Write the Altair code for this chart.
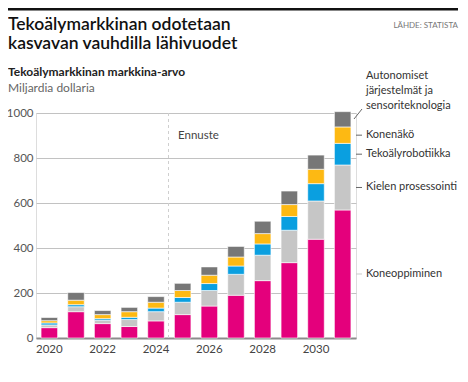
import altair as alt
import pandas as pd

years = [2020, 2021, 2022, 2023, 2024, 2025, 2026, 2027, 2028, 2029, 2030, 2031]
koneoppiminen = [46, 117, 64, 51, 76, 104, 142, 190, 255, 335, 439, 569]
kielen = [12, 22, 15, 31, 41, 55, 69, 93, 113, 144, 170, 200]
robotiikka = [9, 9, 7, 10, 16, 21, 31, 37, 50, 61, 77, 96]
konenako = [10, 20, 18, 25, 26, 31, 37, 40, 46, 53, 64, 73]
autonomiset = [14, 34, 18, 19, 25, 32, 37, 47, 55, 60, 63, 68]

series_names = ["Koneoppiminen", "Kielen prosessointi", "Tekoälyrobotiikka", "Konenäkö",
                "Autonomiset järjestelmät ja sensoriteknologia"]
series_vals = [koneoppiminen, kielen, robotiikka, konenako, autonomiset]
colors = ["#E4007C", "#C6C6C6", "#0A9FE0", "#FDB913", "#777777"]
y_ticks = [0, 200, 400, 600, 800, 1000]
x_label_years = [2020, 2022, 2024, 2026, 2028, 2030]

rows = []
for i, (name, vals) in enumerate(zip(series_names, series_vals)):
    for y, v in zip(years, vals):
        rows.append({"year": y, "series": name, "value": v, "order": i})
df = pd.DataFrame(rows)

# label positions: midpoints of the last bar's segments
last = [vals[-1] for vals in series_vals]
cum = 0
mids = []
for v in last:
    mids.append(cum + v / 2)
    cum += v
lab_df = pd.DataFrame({"name": series_names[:4], "mid": mids[:4],
                       "col": ["#cccccc", "#666666", "#666666", "#666666"]})

FONT = "Lato"
W, H = 320, 225

bars = alt.Chart(df).mark_bar(stroke="white", strokeWidth=0.6).encode(
    x=alt.X("year:O", title=None,
            scale=alt.Scale(paddingInner=0.38, paddingOuter=0.19),
            axis=alt.Axis(values=x_label_years, labelAngle=0, ticks=False,
                          domainColor="#8c8c8c", domainWidth=2, labelPadding=5,
                          labelFontSize=11.5, labelColor="#444", labelFont=FONT)),
    y=alt.Y("value:Q", stack="zero", title=None,
            scale=alt.Scale(domain=[0, 1000], nice=False),
            axis=alt.Axis(values=y_ticks, format="d", domain=False, ticks=False, labelPadding=3,
                          labelFontSize=11.5, labelColor="#555", labelFont=FONT,
                          gridColor="#c2c2c2", gridWidth=1)),
    color=alt.Color("series:N", scale=alt.Scale(domain=series_names, range=colors), legend=None),
    order=alt.Order("order:Q"),
)

dash = alt.Chart(pd.DataFrame({"a": [0]})).mark_rule(
    color="#cfcfcf", strokeDash=[3, 3], strokeWidth=1).encode(
    x=alt.value(132.5), y=alt.value(0), y2=alt.value(H))

def txt(s, x, y, size=11.5, color="#333", weight="normal", align="left"):
    return alt.Chart(pd.DataFrame({"t": [s]})).mark_text(
        font=FONT, fontSize=size, color=color, fontWeight=weight, align=align,
        baseline="alphabetic").encode(x=alt.value(x), y=alt.value(y), text="t:N")

ennuste = txt("Ennuste", 142, 25.7, size=11.5, color="#444")

leaders = alt.Chart(lab_df).mark_rule(strokeWidth=1).encode(
    x=alt.value(320), x2=alt.value(326), y="mid:Q",
    color=alt.Color("col:N", scale=None))
labels = alt.Chart(lab_df).mark_text(font=FONT, fontSize=11, color="#333",
                                     align="left", baseline="middle").encode(
    x=alt.value(330), y="mid:Q", text="name:N")
diag = alt.Chart(pd.DataFrame({"a": [0]})).mark_rule(color="#666", strokeWidth=1).encode(
    x=alt.value(318), x2=alt.value(326), y=alt.value(6), y2=alt.value(-4))
auto1 = txt("Autonomiset", 330, -34.3, size=11)
auto2 = txt("järjestelmät ja", 330, -19.3, size=11)
auto3 = txt("sensoriteknologia", 330, -4.3, size=11)

top_rule = alt.Chart(pd.DataFrame({"a": [0]})).mark_rule(color="#111", strokeWidth=2.5).encode(
    x=alt.value(-28), x2=alt.value(422), y=alt.value(-103.8))
t1 = txt("Tekoälymarkkinan odotetaan", -28, -83.3, size=17.5, color="#111", weight=600)
t2 = txt("kasvavan vauhdilla lähivuodet", -28, -63.8, size=17.5, color="#111", weight=600)
src = txt("LÄHDE: STATISTA", 422, -85.3, size=8, color="#777", align="right")
sub1 = txt("Tekoälymarkkinan markkina-arvo", -28, -37.3, size=12, color="#222", weight="bold")
sub2 = txt("Miljardia dollaria", -28, -21.3, size=12, color="#666")

chart = alt.layer(bars, dash, ennuste, leaders, labels, diag, auto1, auto2, auto3,
                  top_rule, t1, t2, src, sub1, sub2).properties(
    width=W, height=H,
    autosize=alt.AutoSizeParams(type="none"),
    padding={"left": 28, "top": 105, "right": 104, "bottom": 36},
).configure_view(stroke=None).configure(background="white")

chart.save("out.html", embed_options={"renderer": "svg", "actions": False})
